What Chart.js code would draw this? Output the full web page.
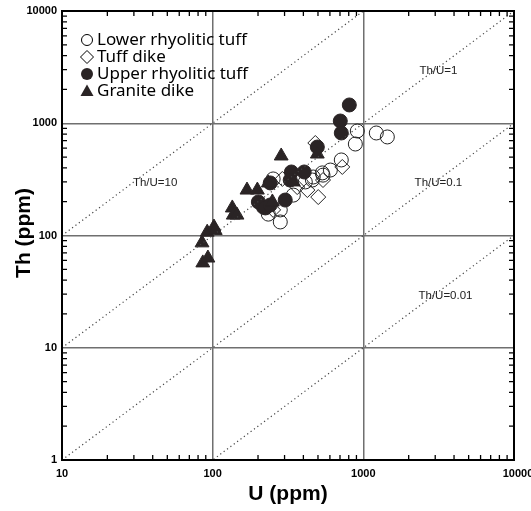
<!DOCTYPE html>
<html>
<head>
<meta charset="utf-8">
<script src="https://cdn.jsdelivr.net/npm/chart.js@4/dist/chart.umd.min.js"></script>
<style>
  html, body { margin: 0; padding: 0; background: #fff; }
</style>
</head>
<body>
<canvas id="myChart" width="531" height="511"></canvas>
<script>
// valeurs (U et Th en ppm)
const lowerU  = [1219, 1443, 912, 885, 714, 604, 534, 465, 459, 412, 343, 281, 281, 252, 234, 540];
const lowerTh = [819, 755, 853, 653, 471, 383, 361, 332, 312, 300, 229, 169, 132, 319, 155, 345];

const dikeU  = [480, 725, 290, 425, 502, 252, 364, 540];
const dikeTh = [667, 408, 319, 254, 220, 169, 270, 312];

const upperU  = [807, 703, 714, 495, 333, 405, 241, 303, 217, 201, 224, 241, 327];
const upperTh = [1455, 1047, 819, 614, 368, 368, 294, 207, 179, 199, 176, 187, 312];

const graniteU  = [85, 92, 102, 86, 93, 104, 135, 137, 145, 169, 198, 234, 285, 495, 343, 249];
const graniteTh = [86, 107, 119, 57, 63, 111, 176, 152, 152, 254, 254, 294, 511, 532, 300, 199];

const ratios = [10, 1, 0.1, 0.01];
const ratioLabels = ['Th/U=10', 'Th/U=1', 'Th/U=0.1', 'Th/U=0.01'];
const ratioLabelPos = [[41.5, 294], [3150, 2920], [3150, 294], [3510, 28.9]];

const xTicks = [10, 100, 1000, 10000];
const yTicks = [1, 10, 100, 1000, 10000];

const legendNames = ['Lower rhyolitic tuff', 'Tuff dike', 'Upper rhyolitic tuff', 'Granite dike'];

function pts(xs, ys) {
    return xs.map((v, i) => ({ x: v, y: ys[i] }));
}
function isDecade(v) {
    const l = Math.log10(v);
    return Math.abs(l - Math.round(l)) < 1e-6;
}

const dark = '#2a2425';

const ratioSets = ratios.map(r => ({
    type: 'line',
    data: [{ x: 10, y: 10 * r }, { x: 10000, y: 10000 * r }],
    borderColor: '#444',
    borderWidth: 1.2,
    borderDash: [1.2, 3],
    pointRadius: 0,
    showLine: true,
    fill: false
}));

const frame = {
    id: 'frame',
    afterDraw(chart) {
        const c = chart.ctx;
        const a = chart.chartArea;
        const sx = chart.scales.x, sy = chart.scales.y;
        c.save();
        c.strokeStyle = '#000';
        c.lineWidth = 2;
        c.strokeRect(a.left, a.top, a.right - a.left, a.bottom - a.top);

        // petites graduations vers l'interieur
        c.lineWidth = 1.3;
        c.beginPath();
        for (let d = 10; d < 10000; d *= 10) {
            for (let m = 2; m <= 9; m++) {
                const px = sx.getPixelForValue(d * m);
                c.moveTo(px, a.bottom); c.lineTo(px, a.bottom - 5);
                c.moveTo(px, a.top); c.lineTo(px, a.top + 5);
            }
        }
        for (let d = 1; d < 10000; d *= 10) {
            for (let m = 2; m <= 9; m++) {
                const py = sy.getPixelForValue(d * m);
                c.moveTo(a.left, py); c.lineTo(a.left + 5, py);
                c.moveTo(a.right, py); c.lineTo(a.right - 5, py);
            }
        }
        c.stroke();

        // etiquettes des axes
        c.fillStyle = '#000';
        c.font = 'bold 11px "Liberation Sans", Arial';
        c.textAlign = 'center';
        c.textBaseline = 'middle';
        xTicks.forEach(v => c.fillText(String(v), sx.getPixelForValue(v) + (v === 10000 ? 4 : 0), a.bottom + 14));
        c.textAlign = 'right';
        yTicks.forEach(v => c.fillText(String(v), a.left - 5, sy.getPixelForValue(v)));

        c.font = 'bold 21px "Liberation Sans", Arial';
        c.textAlign = 'center';
        c.fillText('U (ppm)', (a.left + a.right) / 2, 494);
        c.save();
        c.translate(24, 233);
        c.rotate(-Math.PI / 2);
        c.fillText('Th (ppm)', 0, 0);
        c.restore();

        // rapports Th/U
        c.font = '11.5px "Liberation Sans", Arial';
        c.fillStyle = '#222';
        ratioLabels.forEach((t, i) => {
            c.fillText(t, sx.getPixelForValue(ratioLabelPos[i][0]), sy.getPixelForValue(ratioLabelPos[i][1]));
        });

        // legende
        const lx = 87;
        const rows = [40, 57, 74, 91];
        c.font = '17px "Noto Sans", "Open Sans", sans-serif';
        c.textAlign = 'left';
        c.fillStyle = '#000';
        rows.forEach((y, i) => c.fillText(legendNames[i], 97, y));
        c.lineWidth = 1;
        c.strokeStyle = '#000';
        c.beginPath(); c.arc(lx, rows[0], 5.5, 0, Math.PI * 2); c.stroke();
        c.beginPath();
        c.moveTo(lx, rows[1] - 6.5); c.lineTo(lx + 6.5, rows[1]); c.lineTo(lx, rows[1] + 6.5); c.lineTo(lx - 6.5, rows[1]); c.closePath();
        c.stroke();
        c.fillStyle = dark;
        c.beginPath(); c.arc(lx, rows[2], 6, 0, Math.PI * 2); c.fill();
        c.beginPath();
        c.moveTo(lx, rows[3] - 6.5); c.lineTo(lx + 6.5, rows[3] + 5); c.lineTo(lx - 6.5, rows[3] + 5); c.closePath();
        c.fill();
        c.restore();
    }
};

new Chart(document.getElementById('myChart'), {
    type: 'scatter',
    data: {
        datasets: [
            ...ratioSets,
            { data: pts(graniteU, graniteTh), pointStyle: 'triangle', pointRadius: 8, backgroundColor: dark, borderColor: dark, borderWidth: 1 },
            { data: pts(upperU, upperTh), pointStyle: 'circle', pointRadius: 7, backgroundColor: dark, borderColor: dark, borderWidth: 1 },
            { data: pts(lowerU, lowerTh), pointStyle: 'circle', pointRadius: 7, backgroundColor: 'rgba(255,255,255,0)', borderColor: '#222', borderWidth: 1 },
            { data: pts(dikeU, dikeTh), pointStyle: 'rectRot', pointRadius: 7.5, backgroundColor: 'rgba(255,255,255,0)', borderColor: '#222', borderWidth: 1 }
        ]
    },
    options: {
        responsive: false,
        animation: false,
        devicePixelRatio: 1,
        layout: { padding: { top: 11, right: 17, left: 0, bottom: 0 } },
        plugins: { legend: { display: false }, tooltip: { enabled: false } },
        scales: {
            x: {
                type: 'logarithmic',
                min: 10, max: 10000,
                ticks: { display: false },
                grid: {
                    color: ctx => isDecade(ctx.tick.value) ? '#6f6f6f' : 'rgba(0,0,0,0)',
                    lineWidth: 1.5,
                    drawTicks: false
                },
                border: { color: '#000', width: 2 },
                afterFit: s => { s.height = 51; }
            },
            y: {
                type: 'logarithmic',
                min: 1, max: 10000,
                ticks: { display: false },
                grid: {
                    color: ctx => isDecade(ctx.tick.value) ? '#6f6f6f' : 'rgba(0,0,0,0)',
                    lineWidth: 1.5,
                    drawTicks: false
                },
                border: { color: '#000', width: 2 },
                afterFit: s => { s.width = 62; }
            }
        }
    },
    plugins: [frame]
});
</script>
</body>
</html>
